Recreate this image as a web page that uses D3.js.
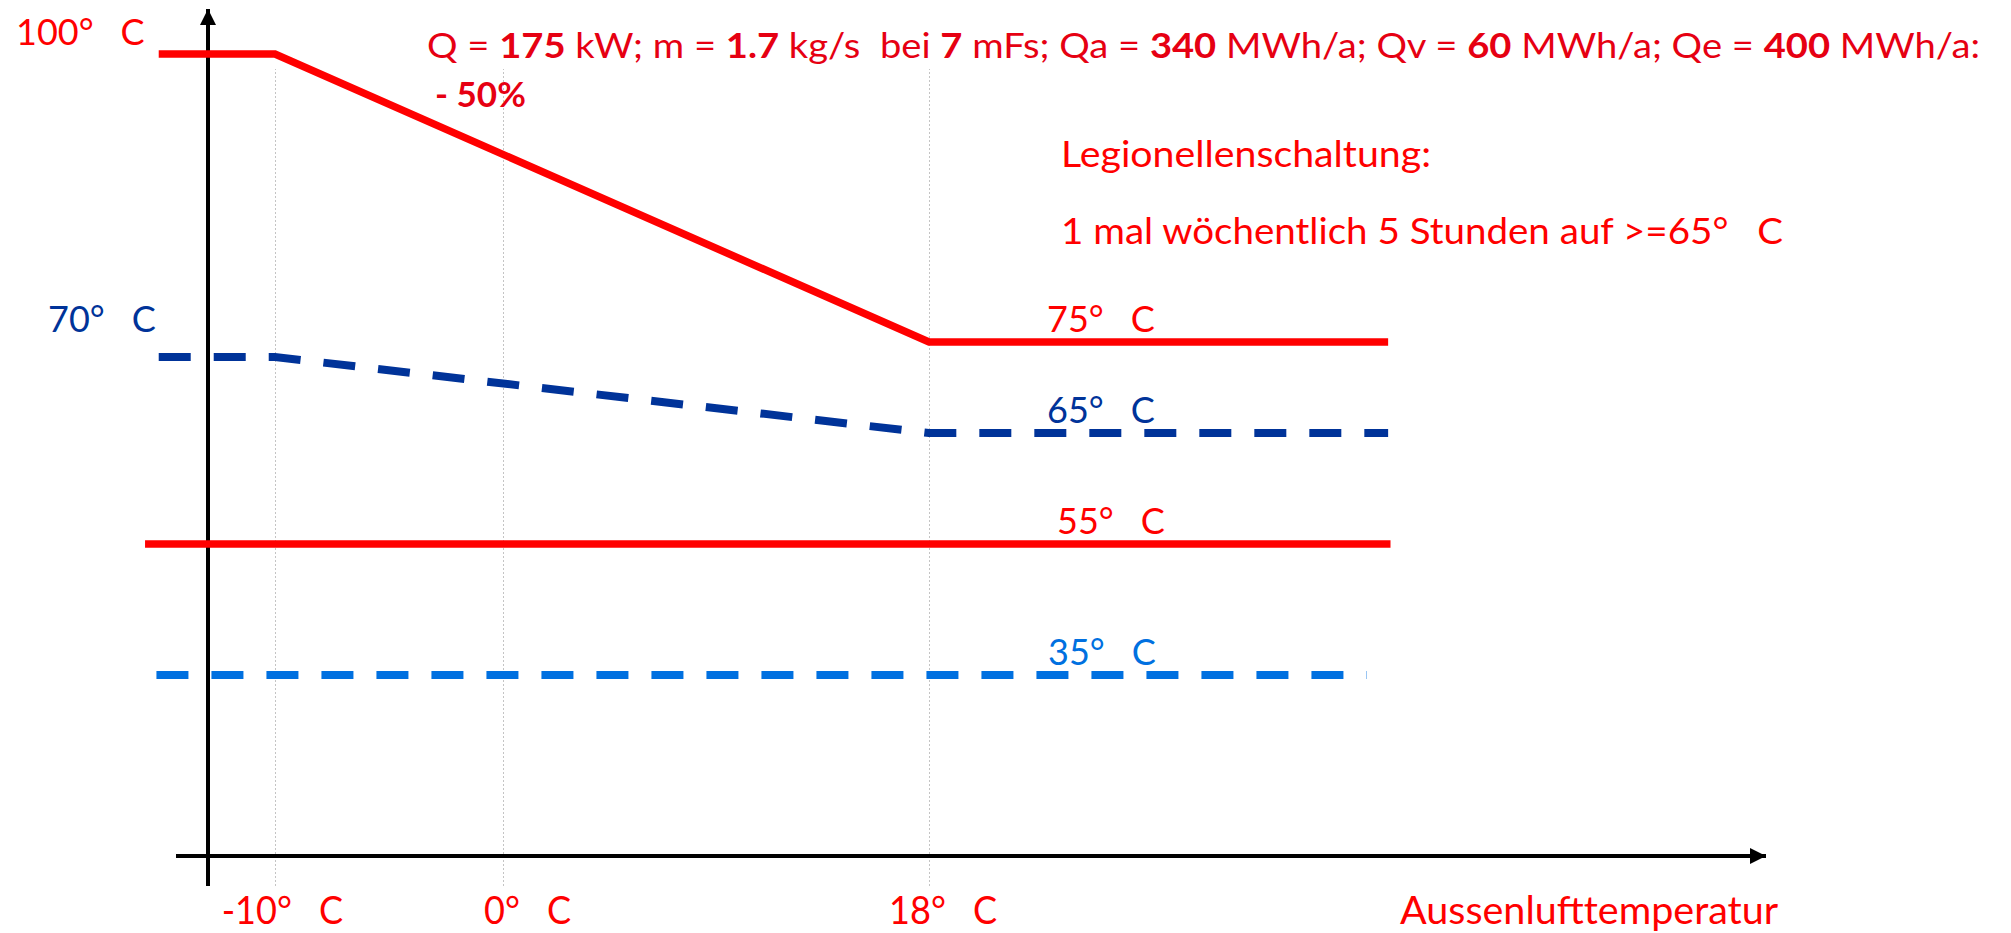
<!DOCTYPE html>
<html>
<head>
<meta charset="utf-8">
<script src="https://cdn.jsdelivr.net/npm/d3@7"></script>
<style>
body { margin: 0; background: #fff; }
text { font-family: Lato, "Open Sans", sans-serif; }
</style>
</head>
<body>
<svg id="drawing_region"></svg>
<script>
// Aussentemperatur (x) and Temperaturniveau (y)
const xTicks = [-10, 0, 18];
const xTickLabels = ["-10° C", "0° C", "18° C"];
const xAxisLabel = "Aussenlufttemperatur";
const levelValues = [35, 55, 65, 70, 75, 100];

// Vorlauf (rot, durchgezogen)
const vorlaufT = [-15.1, -10, 18, 37.4];
const vorlaufV = [100, 100, 75, 75];
// Vorlauf abgesenkt (dunkelblau, gestrichelt)
const absenkT = [-15.1, -10, 18, 37.4];
const absenkV = [70, 70, 65, 65];
// Warmwasser (rot, durchgezogen)
const warmwasserT = [-15.7, 37.5];
const warmwasserV = [55, 55];
// Ruecklauf (hellblau, gestrichelt)
const ruecklaufT = [-15.2, 36.5];
const ruecklaufV = [35, 35];

const leftLabels = ["100° C", "70° C"];
const lineLabels = ["75° C", "65° C", "55° C", "35° C"];

const infoSegments = [
    ["Q = ", false], ["175", true], [" kW; m = ", false], ["1.7", true],
    [" kg/s  bei ", false], ["7", true], [" mFs; Qa = ", false], ["340", true],
    [" MWh/a; Qv = ", false], ["60", true], [" MWh/a; Qe = ", false], ["400", true],
    [" MWh/a:", false]
];
const infoLine2 = "- 50%";
const noteLines = ["Legionellenschaltung:", "1 mal wöchentlich 5 Stunden auf >=65° C"];

const RED = "#ff0000", DARKBLUE = "#003399", LIGHTBLUE = "#0070e0";

const deg = s => s.replace("° ", "°\u2003");

const svg = d3.select("#drawing_region")
    .attr("width", 2011)
    .attr("height", 933);

const xscale = d3.scaleLinear().domain(xTicks).range([275, 503, 929]);
const yscale = d3.scaleLinear().domain(levelValues).range([675, 544, 433, 357, 342, 54]);

const axisX0 = 208, axisY0 = 856;

// arrow heads
const defs = svg.append("defs");
defs.append("marker")
    .attr("id", "arrow")
    .attr("markerUnits", "userSpaceOnUse")
    .attr("viewBox", "0 0 16 16")
    .attr("markerWidth", 16)
    .attr("markerHeight", 16)
    .attr("refX", 16)
    .attr("refY", 8)
    .attr("orient", "auto")
    .append("path")
    .attr("d", "M0,0 L16,8 L0,16 Z")
    .attr("fill", "#000");

// vertical grid lines via axis
const grid = d3.axisBottom(xscale)
    .tickValues(xTicks)
    .tickSize(-(886 - 69))
    .tickFormat("");
svg.append("g")
    .attr("transform", "translate(0,886)")
    .call(grid)
    .call(g => g.select(".domain").remove())
    .call(g => g.selectAll(".tick line")
        .attr("stroke", "#c4c4c4")
        .attr("stroke-width", 1)
        .attr("stroke-dasharray", "2,2"));

// axes
svg.append("line")
    .attr("x1", 176).attr("y1", axisY0)
    .attr("x2", 1766).attr("y2", axisY0)
    .attr("stroke", "#000").attr("stroke-width", 4)
    .attr("marker-end", "url(#arrow)");
svg.append("line")
    .attr("x1", axisX0).attr("y1", 886)
    .attr("x2", axisX0).attr("y2", 9)
    .attr("stroke", "#000").attr("stroke-width", 4)
    .attr("marker-end", "url(#arrow)");

// curves
const line = d3.line().x(d => xscale(d[0])).y(d => yscale(d[1]));
const series = [
    { t: ruecklaufT, v: ruecklaufV, color: LIGHTBLUE, dash: "32,23" },
    { t: warmwasserT, v: warmwasserV, color: RED, dash: null },
    { t: absenkT, v: absenkV, color: DARKBLUE, dash: "32,23" },
    { t: vorlaufT, v: vorlaufV, color: RED, dash: null }
];
svg.selectAll("path.curve")
    .data(series)
    .enter()
    .append("path")
    .attr("class", "curve")
    .attr("d", d => line(d3.zip(d.t, d.v)))
    .attr("fill", "none")
    .attr("stroke", d => d.color)
    .attr("stroke-width", d => d.dash ? 8 : 7.5)
    .attr("stroke-dasharray", d => d.dash)
    .attr("stroke-linejoin", "miter");

// labels at the left
svg.append("text")
    .attr("x", 16).attr("y", 45)
    .attr("font-size", 36).attr("fill", RED)
    .text(deg(leftLabels[0]));
svg.append("text")
    .attr("x", 48).attr("y", yscale(absenkV[0]) - 25)
    .attr("font-size", 36).attr("fill", DARKBLUE)
    .text(deg(leftLabels[1]));

// labels on the lines
const lineLabelColors = [RED, DARKBLUE, RED, LIGHTBLUE];
const lineLabelVals = [vorlaufV[3], absenkV[3], warmwasserV[1], ruecklaufV[1]];
const lineLabelX = [1047, 1047, 1057, 1048];
svg.selectAll("text.linelabel")
    .data(lineLabels)
    .enter()
    .append("text")
    .attr("class", "linelabel")
    .attr("x", (d, i) => lineLabelX[i])
    .attr("y", (d, i) => yscale(lineLabelVals[i]) - 10)
    .attr("font-size", 36)
    .attr("fill", (d, i) => lineLabelColors[i])
    .text(d => deg(d));

// x tick labels: the degree sign sits on the grid line
const sx = 0.95;
svg.selectAll("text.xtick")
    .data(xTicks)
    .enter()
    .append("text")
    .attr("class", "xtick")
    .attr("font-size", 38)
    .attr("fill", RED)
    .each(function (d, i) {
        const parts = xTickLabels[i].split("°");
        const t = d3.select(this);
        const num = t.append("tspan").text(parts[0]);
        t.append("tspan").text("°\u2003" + parts[1].trim());
        const w = num.node().getComputedTextLength() * sx;
        t.attr("transform", `translate(${xscale(d) - w + 2},924) scale(${sx},1)`);
    });

svg.append("text")
    .attr("transform", "translate(1400,924) scale(1.04,1)")
    .attr("font-size", 38)
    .attr("fill", RED)
    .text(xAxisLabel);

// info text
const info = svg.append("text")
    .attr("x", 427).attr("y", 58)
    .attr("font-size", 35)
    .attr("fill", "#e60012")
    .attr("textLength", 1553)
    .attr("lengthAdjust", "spacingAndGlyphs")
    .style("white-space", "pre");
info.selectAll("tspan")
    .data(infoSegments)
    .enter()
    .append("tspan")
    .attr("font-weight", d => d[1] ? "bold" : null)
    .text(d => d[0]);

svg.append("text")
    .attr("x", 435).attr("y", 107)
    .attr("font-size", 35)
    .attr("font-weight", "bold")
    .attr("fill", "#e60012")
    .text(infoLine2);

// Legionellen note
const noteWidths = [370, 722];
svg.selectAll("text.note")
    .data(noteLines)
    .enter()
    .append("text")
    .attr("class", "note")
    .attr("x", 1061)
    .attr("y", (d, i) => 167 + i * 77)
    .attr("font-size", 37)
    .attr("fill", RED)
    .attr("textLength", (d, i) => noteWidths[i])
    .attr("lengthAdjust", "spacingAndGlyphs")
    .text(d => deg(d));
</script>
</body>
</html>
